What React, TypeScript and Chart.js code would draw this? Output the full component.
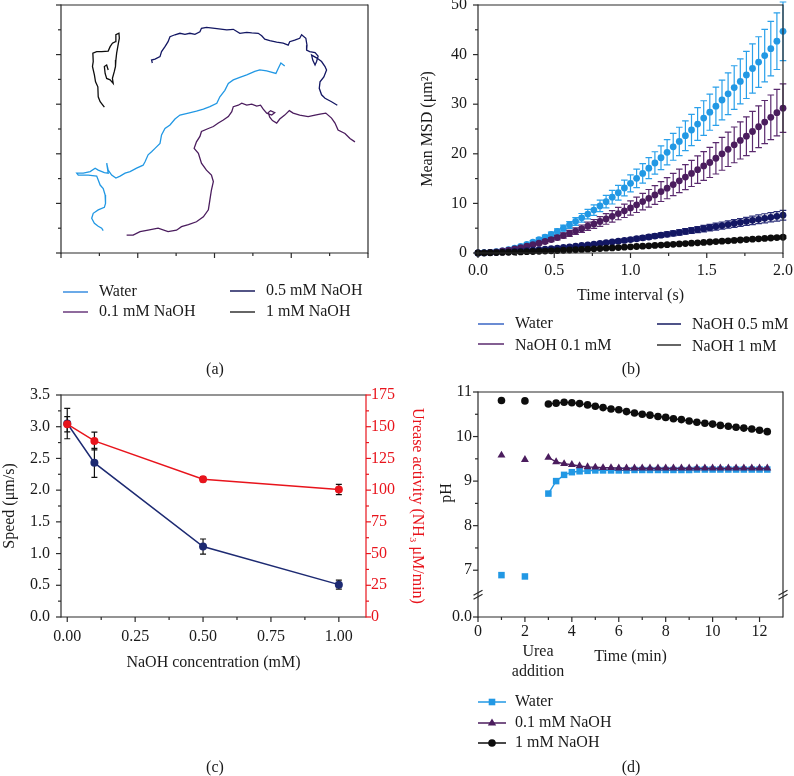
import React, { useEffect, useRef } from 'react';
import { Chart, registerables } from 'chart.js';

Chart.register(...registerables);

const W = 794;
const H = 776;
const FONT_FAMILY = '"Liberation Serif", "Times New Roman", Times, serif';
const FS = 16;
const INK = '#1a1a1a';
const AXIS = '#2a2a2a';

const C_WATER = '#2298e4';
const C_P01 = '#4b1d5e';
const C_P05 = '#131763';
const C_P1 = '#0d0d0d';
const C_SPEED = '#1d2a72';
const C_UREASE = '#e8141c';

// ================= (a) trajectories (x, y in plot units) =================
const trackWater: [number, number][] = [
  [5.83, 3.77], [5.73, 3.83], [5.66, 3.72], [5.6, 3.62], [5.36, 3.67], [5.18, 3.69], [5.05, 3.66], [4.84, 3.59],
  [4.66, 3.54], [4.49, 3.49], [4.36, 3.42], [4.27, 3.28], [4.14, 3.15], [4.06, 3.02], [3.88, 2.95], [3.71, 2.9],
  [3.53, 2.86], [3.32, 2.82], [3.1, 2.78], [2.97, 2.7], [2.84, 2.58], [2.71, 2.51], [2.62, 2.38], [2.58, 2.21],
  [2.45, 2.11], [2.36, 2.04], [2.27, 1.98], [2.19, 1.84], [2.14, 1.77], [1.97, 1.71], [1.8, 1.64], [1.67, 1.61],
  [1.54, 1.55], [1.43, 1.51], [1.32, 1.57], [1.23, 1.67], [1.19, 1.81], [1.23, 1.61], [1.13, 1.62], [0.97, 1.67],
  [0.89, 1.71], [0.76, 1.64], [0.58, 1.61], [0.41, 1.61], [0.45, 1.57], [0.71, 1.57], [0.93, 1.55], [0.97, 1.47],
  [1.02, 1.37], [1.1, 1.3], [1.15, 1.17], [1.16, 1.0], [1.13, 0.92], [0.97, 0.87], [0.84, 0.8], [0.8, 0.7],
  [0.87, 0.6], [0.97, 0.54], [1.06, 0.5], [1.1, 0.45],
];
const trackNaOH01: [number, number][] = [
  [1.71, 0.36], [1.88, 0.36], [2.06, 0.43], [2.27, 0.46], [2.53, 0.5], [2.79, 0.43], [3.01, 0.46], [3.14, 0.53],
  [3.32, 0.57], [3.53, 0.63], [3.71, 0.73], [3.84, 0.87], [3.88, 1.07], [3.92, 1.27], [3.97, 1.44], [3.92, 1.57],
  [3.79, 1.67], [3.66, 1.81], [3.58, 2.01], [3.47, 2.11], [3.53, 2.24], [3.62, 2.35], [3.66, 2.45], [3.84, 2.51],
  [3.97, 2.55], [4.1, 2.62], [4.23, 2.68], [4.36, 2.75], [4.45, 2.85], [4.49, 2.95], [4.62, 2.98], [4.71, 3.02],
  [4.84, 2.98], [4.97, 3.0], [5.1, 2.96], [5.2, 2.98], [5.27, 2.9], [5.36, 2.82], [5.49, 2.78], [5.57, 2.83],
  [5.46, 2.87], [5.4, 2.83], [5.44, 2.74], [5.51, 2.67], [5.62, 2.62], [5.7, 2.7], [5.83, 2.78], [5.95, 2.87],
  [6.05, 2.82], [6.22, 2.78], [6.44, 2.75], [6.62, 2.78], [6.75, 2.8], [6.9, 2.82], [7.05, 2.72], [7.14, 2.62],
  [7.22, 2.48], [7.4, 2.41], [7.53, 2.31], [7.66, 2.24],
];
const trackNaOH05: [number, number][] = [
  [2.38, 3.83], [2.36, 3.89], [2.45, 3.91], [2.58, 3.96], [2.62, 4.06], [2.71, 4.16], [2.79, 4.26], [2.84, 4.36],
  [2.97, 4.4], [3.1, 4.43], [3.23, 4.41], [3.36, 4.43], [3.49, 4.41], [3.62, 4.46], [3.66, 4.53], [3.79, 4.55],
  [4.01, 4.53], [4.32, 4.5], [4.49, 4.51], [4.66, 4.43], [4.84, 4.45], [4.97, 4.44], [5.14, 4.43], [5.23, 4.38],
  [5.31, 4.31], [5.44, 4.28], [5.62, 4.25], [5.79, 4.23], [5.92, 4.19], [5.96, 4.26], [6.09, 4.29], [6.22, 4.33],
  [6.27, 4.4], [6.38, 4.33], [6.41, 4.19], [6.4, 4.09], [6.48, 4.06], [6.62, 4.04], [6.7, 3.97], [6.66, 3.86],
  [6.62, 3.79], [6.56, 3.89], [6.53, 3.99], [6.67, 3.93], [6.79, 3.86], [6.88, 3.76], [6.92, 3.69], [6.85, 3.55],
  [6.75, 3.45], [6.73, 3.32], [6.79, 3.19], [6.88, 3.12], [7.05, 3.05], [7.2, 2.98],
];
const trackNaOH1: [number, number][] = [
  [1.13, 2.94], [1.02, 3.05], [0.97, 3.15], [0.96, 3.35], [0.9, 3.45], [0.87, 3.59], [0.82, 3.76], [0.84, 3.86],
  [0.83, 4.03], [0.93, 4.06], [1.06, 4.06], [1.23, 4.07], [1.28, 4.16], [1.34, 4.23], [1.42, 4.26], [1.43, 4.4],
  [1.51, 4.43], [1.52, 4.33], [1.48, 4.16], [1.45, 4.03], [1.43, 3.89], [1.42, 3.76], [1.39, 3.66], [1.34, 3.52],
  [1.36, 3.42], [1.28, 3.49], [1.19, 3.52], [1.15, 3.62], [1.13, 3.76], [1.19, 3.79], [1.23, 3.69],
];

// ================= (b) mean MSD =================
const msdTime = [
  0, 0.04, 0.08, 0.12, 0.16, 0.2, 0.24, 0.28, 0.32, 0.36,
  0.4, 0.44, 0.48, 0.52, 0.56, 0.6, 0.64, 0.68, 0.72, 0.76,
  0.8, 0.84, 0.88, 0.92, 0.96, 1.0, 1.04, 1.08, 1.12, 1.16,
  1.2, 1.24, 1.28, 1.32, 1.36, 1.4, 1.44, 1.48, 1.52, 1.56,
  1.6, 1.64, 1.68, 1.72, 1.76, 1.8, 1.84, 1.88, 1.92, 1.96,
  2.0,
];
const msdWater = [
  0, 0.05, 0.12, 0.25, 0.42, 0.68, 1.0, 1.35, 1.75, 2.2,
  2.7, 3.2, 3.75, 4.35, 5.0, 5.65, 6.35, 7.1, 7.85, 8.65,
  9.5, 10.35, 11.25, 12.15, 13.1, 14.05, 15.05, 16.05, 17.1, 18.15,
  19.2, 20.3, 21.4, 22.5, 23.65, 24.8, 26.0, 27.2, 28.4, 29.6,
  30.85, 32.1, 33.35, 34.6, 35.9, 37.2, 38.5, 39.8, 41.2, 42.7,
  44.7,
];
const msdWaterErr = [
  0, 0.01, 0.02, 0.04, 0.06, 0.09, 0.13, 0.17, 0.22, 0.27,
  0.33, 0.39, 0.46, 0.53, 0.6, 0.68, 0.77, 0.86, 0.95, 1.05,
  1.15, 1.26, 1.37, 1.48, 1.6, 1.72, 1.85, 1.98, 2.12, 2.26,
  2.4, 2.55, 2.7, 2.85, 3.0, 3.15, 3.3, 3.5, 3.65, 3.85,
  4.0, 4.2, 4.4, 4.55, 4.75, 4.95, 5.1, 5.3, 5.5, 5.7,
  5.9,
];
const msdNaOH01 = [
  0, 0.04, 0.12, 0.24, 0.4, 0.58, 0.82, 1.08, 1.36, 1.66,
  1.98, 2.32, 2.7, 3.1, 3.52, 3.96, 4.42, 4.9, 5.4, 5.85,
  6.35, 6.87, 7.4, 7.95, 8.5, 9.08, 9.72, 10.37, 11.03, 11.7,
  12.38, 13.06, 13.8, 14.55, 15.3, 16.05, 16.8, 17.55, 18.25, 19.1,
  20.0, 20.9, 21.8, 22.7, 23.55, 24.5, 25.45, 26.4, 27.35, 28.3,
  29.2,
];
const msdNaOH01Err = [
  0, 0.01, 0.02, 0.04, 0.06, 0.09, 0.12, 0.16, 0.2, 0.25,
  0.3, 0.35, 0.41, 0.47, 0.53, 0.6, 0.67, 0.75, 0.83, 0.9,
  0.98, 1.07, 1.16, 1.25, 1.34, 1.44, 1.55, 1.66, 1.77, 1.88,
  2.0, 2.12, 2.25, 2.38, 2.51, 2.64, 2.77, 2.9, 3.03, 3.17,
  3.32, 3.46, 3.6, 3.75, 3.9, 4.05, 4.2, 4.35, 4.5, 4.7,
  4.9,
];
const msdNaOH05 = [
  0, 0.03, 0.07, 0.12, 0.18, 0.24, 0.31, 0.39, 0.47, 0.56,
  0.66, 0.76, 0.87, 0.99, 1.11, 1.24, 1.37, 1.51, 1.65, 1.79,
  1.93, 2.08, 2.23, 2.38, 2.54, 2.7, 2.87, 3.05, 3.23, 3.41,
  3.59, 3.77, 3.96, 4.15, 4.34, 4.53, 4.72, 4.91, 5.11, 5.32,
  5.53, 5.74, 5.95, 6.16, 6.37, 6.58, 6.79, 7.0, 7.2, 7.4,
  7.62,
];
const msdNaOH05Err = [
  0, 0.01, 0.01, 0.02, 0.02, 0.03, 0.04, 0.05, 0.06, 0.07,
  0.09, 0.1, 0.11, 0.13, 0.14, 0.16, 0.18, 0.2, 0.21, 0.23,
  0.25, 0.27, 0.29, 0.31, 0.33, 0.35, 0.37, 0.4, 0.42, 0.44,
  0.47, 0.49, 0.51, 0.54, 0.56, 0.59, 0.61, 0.64, 0.66, 0.69,
  0.72, 0.75, 0.77, 0.8, 0.83, 0.86, 0.88, 0.91, 0.94, 0.96,
  0.99,
];
const msdNaOH1 = [
  0, 0.02, 0.05, 0.08, 0.11, 0.15, 0.18, 0.22, 0.26, 0.3,
  0.35, 0.39, 0.44, 0.49, 0.55, 0.6, 0.66, 0.72, 0.78, 0.84,
  0.9, 0.97, 1.03, 1.1, 1.17, 1.24, 1.31, 1.38, 1.45, 1.52,
  1.6, 1.67, 1.75, 1.82, 1.9, 1.98, 2.06, 2.14, 2.22, 2.3,
  2.38, 2.46, 2.54, 2.62, 2.7, 2.78, 2.86, 2.94, 3.02, 3.1,
  3.18,
];
const msdNaOH1Err = [
  0, 0, 0, 0.01, 0.01, 0.01, 0.01, 0.02, 0.02, 0.02,
  0.03, 0.03, 0.03, 0.04, 0.04, 0.05, 0.05, 0.06, 0.06, 0.07,
  0.07, 0.08, 0.08, 0.09, 0.09, 0.1, 0.1, 0.11, 0.12, 0.12,
  0.13, 0.13, 0.14, 0.15, 0.15, 0.16, 0.16, 0.17, 0.18, 0.18,
  0.19, 0.2, 0.2, 0.21, 0.22, 0.22, 0.23, 0.24, 0.24, 0.25,
  0.26,
];

// ================= (c) speed & urease =================
const naohConc = [0, 0.1, 0.5, 1.0];
const speed = [3.05, 2.43, 1.11, 0.51];
const speedErr = [0.24, 0.23, 0.12, 0.07];
const urease = [152, 138.8, 108.6, 100.5];
const ureaseErr = [6, 7, 2, 4];

// ================= (d) pH =================
const phTime = [
  1, 2, 3, 3.33, 3.67, 4, 4.33, 4.67, 5, 5.33, 5.67, 6, 6.33, 6.67, 7, 7.33,
  7.67, 8, 8.33, 8.67, 9, 9.33, 9.67, 10, 10.33, 10.67, 11, 11.33, 11.67, 12, 12.33,
];
const phWater = [
  6.89, 6.86, 8.72, 9.0, 9.14, 9.2, 9.22, 9.23, 9.24, 9.24, 9.24, 9.24, 9.24, 9.25, 9.25, 9.25,
  9.25, 9.25, 9.25, 9.25, 9.25, 9.26, 9.26, 9.26, 9.26, 9.26, 9.26, 9.26, 9.26, 9.26, 9.26,
];
const phNaOH01 = [
  9.58, 9.48, 9.53, 9.43, 9.39, 9.37, 9.34, 9.32, 9.31, 9.3, 9.3, 9.29, 9.29, 9.29, 9.29, 9.29,
  9.29, 9.29, 9.29, 9.29, 9.29, 9.29, 9.29, 9.29, 9.29, 9.29, 9.29, 9.29, 9.29, 9.29, 9.29,
];
const phNaOH1 = [
  10.81, 10.8, 10.73, 10.75, 10.77, 10.76, 10.74, 10.71, 10.68, 10.65, 10.62, 10.6, 10.56, 10.53, 10.5, 10.48,
  10.45, 10.43, 10.4, 10.38, 10.35, 10.32, 10.3, 10.28, 10.25, 10.23, 10.21, 10.19, 10.17, 10.14, 10.11,
];

// ================= tick sets =================
const aXMajor = [0, 2, 4, 6, 8];
const aXMinor = [1, 3, 5, 7];
const aYMajor = [0, 1, 2, 3, 4, 5];
const aYMinor = [0.5, 1.5, 2.5, 3.5, 4.5];
const bXTicks = [0, 0.5, 1, 1.5, 2];
const bXMinor = [0.25, 0.75, 1.25, 1.75];
const bYTicks = [0, 10, 20, 30, 40, 50];
const bYMinor = [5, 15, 25, 35, 45];
const cXTicks = [0, 0.25, 0.5, 0.75, 1];
const cXMinor = [0.125, 0.375, 0.625, 0.875];
const cYTicks = [0, 0.5, 1, 1.5, 2, 2.5, 3, 3.5];
const cYMinor = [0.25, 0.75, 1.25, 1.75, 2.25, 2.75, 3.25];
const cY2Ticks = [0, 25, 50, 75, 100, 125, 150, 175];
const cY2Minor = [12.5, 37.5, 62.5, 87.5, 112.5, 137.5, 162.5];
const dXTicks = [0, 2, 4, 6, 8, 10, 12];
const dXMinor = [1, 3, 5, 7, 9, 11];
const dYBottom = 5.95;
const dYTicks = [dYBottom, 7, 8, 9, 10, 11];
const dYMinor = [7.5, 8.5, 9.5, 10.5];
const dYBreak = 6.45;

// ================= helpers =================
const font = { family: FONT_FAMILY, size: FS };

function fixSize(size: number) {
  return (s: any) => {
    if (s.isHorizontal()) s.height = size;
    else s.width = size;
    s.paddingLeft = 0;
    s.paddingRight = 0;
    s.paddingTop = 0;
    s.paddingBottom = 0;
  };
}

function setTicks(vals: number[]) {
  return (s: any) => {
    s.ticks = vals.map((v) => ({ value: v }));
  };
}

function axisBase(min: number, max: number, size: number, ticks: number[] | null, pad: number, fmt: (v: number) => string, color = INK) {
  return {
    type: 'linear' as const,
    min,
    max,
    grid: { display: false, drawTicks: false },
    border: { display: false },
    ticks: {
      display: ticks !== null,
      autoSkip: false,
      maxRotation: 0,
      padding: pad,
      color,
      font,
      callback: (v: any) => fmt(Number(v)),
    },
    afterBuildTicks: ticks ? setTicks(ticks) : undefined,
    afterFit: fixSize(size),
  };
}

type Side = 'left' | 'right' | 'top' | 'bottom';
interface AxisDeco {
  scale: string;
  side: Side;
  major: number[];
  minor: number[];
  color?: string;
}

function framePlugin(id: string, axes: AxisDeco[], breakAt?: { scale: string; value: number }) {
  return {
    id,
    afterDraw(chart: any) {
      const { ctx, chartArea: a } = chart;
      ctx.save();
      ctx.lineWidth = 1.2;
      (['top', 'bottom', 'left', 'right'] as Side[]).forEach((s) => {
        const d = axes.find((x) => x.side === s);
        ctx.strokeStyle = d?.color ?? AXIS;
        ctx.beginPath();
        if (s === 'left') { ctx.moveTo(a.left, a.top - 0.6); ctx.lineTo(a.left, a.bottom + 0.6); }
        if (s === 'right') { ctx.moveTo(a.right, a.top - 0.6); ctx.lineTo(a.right, a.bottom + 0.6); }
        if (s === 'top') { ctx.moveTo(a.left, a.top); ctx.lineTo(a.right, a.top); }
        if (s === 'bottom') { ctx.moveTo(a.left, a.bottom); ctx.lineTo(a.right, a.bottom); }
        ctx.stroke();
      });
      for (const d of axes) {
        const sc = chart.scales[d.scale];
        ctx.strokeStyle = d.color ?? AXIS;
        const mark = (v: number, len: number) => {
          const p = sc.getPixelForValue(v);
          ctx.beginPath();
          if (d.side === 'left') { ctx.moveTo(a.left - len, p); ctx.lineTo(a.left, p); }
          else if (d.side === 'right') { ctx.moveTo(a.right, p); ctx.lineTo(a.right + len, p); }
          else if (d.side === 'bottom') { ctx.moveTo(p, a.bottom); ctx.lineTo(p, a.bottom + len); }
          else { ctx.moveTo(p, a.top); ctx.lineTo(p, a.top - len); }
          ctx.stroke();
        };
        d.major.forEach((v) => mark(v, 5));
        d.minor.forEach((v) => mark(v, 3));
      }
      if (breakAt) {
        const p = chart.scales[breakAt.scale].getPixelForValue(breakAt.value);
        ctx.strokeStyle = AXIS;
        for (const x of [a.left, a.right]) {
          for (const off of [-2, 2]) {
            ctx.beginPath();
            ctx.moveTo(x - 4.5, p + off + 2.5);
            ctx.lineTo(x + 4.5, p + off - 2.5);
            ctx.stroke();
          }
        }
      }
      ctx.restore();
    },
  };
}

const errorBars = {
  id: 'errorBars',
  beforeDatasetDraw(chart: any, args: any) {
    const ds: any = chart.data.datasets[args.index];
    if (!ds.errors) return;
    const meta = args.meta;
    const ys = meta.yScale;
    const ctx = chart.ctx;
    const cap = ds.errorCap ?? 3.2;
    ctx.save();
    ctx.strokeStyle = ds.errorColor || ds.borderColor;
    ctx.lineWidth = 1.2;
    meta.data.forEach((pt: any, i: number) => {
      const e = ds.errors[i];
      if (!e) return;
      const v = ds.data[i].y;
      const x = pt.x;
      const y1 = ys.getPixelForValue(v + e);
      const y2 = ys.getPixelForValue(v - e);
      ctx.beginPath();
      ctx.moveTo(x, y1); ctx.lineTo(x, y2);
      ctx.moveTo(x - cap, y1); ctx.lineTo(x + cap, y1);
      ctx.moveTo(x - cap, y2); ctx.lineTo(x + cap, y2);
      ctx.stroke();
    });
    ctx.restore();
  },
};

interface LegendItem {
  text: string;
  color: string;
  x1: number;
  x2: number;
  y: number;
  tx: number;
  ty?: number;
  marker?: 'circle' | 'rect' | 'triangle';
}
interface TextItem {
  text: string;
  x: number;
  y: number;
  color?: string;
  align?: CanvasTextAlign;
  rotate?: number;
}

function drawMarker(ctx: CanvasRenderingContext2D, kind: string, x: number, y: number, color: string) {
  ctx.fillStyle = color;
  ctx.beginPath();
  if (kind === 'circle') ctx.arc(x, y, 3.8, 0, Math.PI * 2);
  else if (kind === 'rect') ctx.rect(x - 3.3, y - 3.3, 6.6, 6.6);
  else {
    ctx.moveTo(x, y - 4.6);
    ctx.lineTo(x + 4.2, y + 2.6);
    ctx.lineTo(x - 4.2, y + 2.6);
    ctx.closePath();
  }
  ctx.fill();
}

function annotPlugin(id: string, legend: LegendItem[], texts: TextItem[]) {
  return {
    id,
    afterDraw(chart: any) {
      const ctx: CanvasRenderingContext2D = chart.ctx;
      ctx.save();
      ctx.font = `${FS}px ${FONT_FAMILY}`;
      ctx.textBaseline = 'middle';
      for (const it of legend) {
        ctx.strokeStyle = it.color;
        ctx.lineWidth = 1.5;
        ctx.beginPath();
        ctx.moveTo(it.x1, it.y);
        ctx.lineTo(it.x2, it.y);
        ctx.stroke();
        if (it.marker) drawMarker(ctx, it.marker, (it.x1 + it.x2) / 2, it.y, it.color);
        ctx.fillStyle = INK;
        ctx.textAlign = 'left';
        ctx.fillText(it.text, it.tx, it.ty ?? it.y);
      }
      for (const t of texts) {
        ctx.save();
        ctx.fillStyle = t.color ?? INK;
        ctx.textAlign = t.align ?? 'center';
        ctx.translate(t.x, t.y);
        if (t.rotate) ctx.rotate(t.rotate);
        ctx.fillText(t.text, 0, 0);
        ctx.restore();
      }
      ctx.restore();
    },
  };
}

const title = (text: string, color = INK) => ({ display: true, text, color, font, padding: 0 });
const basePlugins = { legend: { display: false }, tooltip: { enabled: false } };
const f1 = (v: number) => v.toFixed(1);
const f2 = (v: number) => v.toFixed(2);
const f0 = (v: number) => String(Math.round(v));

// ================= chart configs =================
function configA(): any {
  const track = (pts: [number, number][], color: string) => ({
    data: pts.map(([x, y]) => ({ x, y })),
    showLine: true,
    borderColor: color,
    borderWidth: 1.3,
    pointRadius: 0,
    tension: 0,
  });
  return {
    type: 'scatter',
    data: {
      datasets: [
        track(trackWater, C_WATER),
        track(trackNaOH01, C_P01),
        track(trackNaOH05, C_P05),
        track(trackNaOH1, C_P1),
      ],
    },
    options: {
      responsive: false,
      animation: false,
      events: [],
      layout: { padding: { left: 41, top: 5, right: 426, bottom: 503 } },
      scales: {
        x: axisBase(0, 8, 20, null, 0, f0),
        y: axisBase(0, 5, 20, null, 0, f0),
      },
      plugins: basePlugins,
    },
    plugins: [
      framePlugin('frameA', [
        { scale: 'x', side: 'bottom', major: aXMajor, minor: aXMinor },
        { scale: 'y', side: 'left', major: aYMajor, minor: aYMinor },
      ]),
      annotPlugin(
        'annotA',
        [
          { text: 'Water', color: '#3a8ee0', x1: 63, x2: 88, y: 292, tx: 99 },
          { text: '0.1 mM NaOH', color: '#6a3a7c', x1: 63, x2: 88, y: 312, tx: 99 },
          { text: '0.5 mM NaOH', color: '#1a1d5e', x1: 230, x2: 255, y: 291, tx: 266 },
          { text: '1 mM NaOH', color: '#333333', x1: 230, x2: 255, y: 312, tx: 266 },
        ],
        [{ text: '(a)', x: 215, y: 370 }],
      ),
    ],
  };
}

function configB(): any {
  const series = (vals: number[], errs: number[], color: string, errColor: string, order: number) => ({
    data: msdTime.map((t, i) => ({ x: t, y: vals[i] })),
    errors: errs,
    errorColor: errColor,
    errorCap: 3.3,
    showLine: false,
    pointRadius: 3.4,
    pointBorderWidth: 0,
    pointBackgroundColor: color,
    borderColor: color,
    backgroundColor: color,
    clip: false,
    order,
  });
  return {
    type: 'scatter',
    data: {
      datasets: [
        series(msdWater, msdWaterErr, C_WATER, '#2aa0ea', 4),
        series(msdNaOH01, msdNaOH01Err, C_P01, '#5a2a6e', 3),
        series(msdNaOH05, msdNaOH05Err, C_P05, '#2a2e78', 2),
        series(msdNaOH1, msdNaOH1Err, C_P1, '#222222', 1),
      ],
    },
    options: {
      responsive: false,
      animation: false,
      events: [],
      layout: { padding: { left: 418, top: 5, right: 11, bottom: 471 } },
      scales: {
        x: { ...axisBase(0, 2, 52, bXTicks, 8, f1), title: title('Time interval (s)') },
        y: { ...axisBase(0, 50, 60, bYTicks, 11, f0), title: title('Mean MSD (μm²)') },
      },
      plugins: basePlugins,
    },
    plugins: [
      errorBars,
      framePlugin('frameB', [
        { scale: 'x', side: 'bottom', major: bXTicks, minor: bXMinor },
        { scale: 'y', side: 'left', major: bYTicks, minor: bYMinor },
      ]),
      annotPlugin(
        'annotB',
        [
          { text: 'Water', color: '#3a66c4', x1: 478, x2: 504, y: 324, tx: 515 },
          { text: 'NaOH 0.1 mM', color: '#5a2a6e', x1: 478, x2: 504, y: 344, tx: 515, ty: 346 },
          { text: 'NaOH 0.5 mM', color: '#141a60', x1: 657, x2: 681, y: 324, tx: 692, ty: 325 },
          { text: 'NaOH 1 mM', color: '#333333', x1: 657, x2: 681, y: 345, tx: 692, ty: 347 },
        ],
        [{ text: '(b)', x: 631, y: 370 }],
      ),
    ],
  };
}

function configC(): any {
  return {
    type: 'scatter',
    data: {
      datasets: [
        {
          data: naohConc.map((x, i) => ({ x, y: urease[i] })),
          yAxisID: 'y2',
          errors: ureaseErr,
          errorColor: '#111111',
          errorCap: 3,
          showLine: true,
          borderColor: C_UREASE,
          borderWidth: 1.5,
          pointRadius: 4,
          pointBorderWidth: 0,
          pointBackgroundColor: C_UREASE,
          clip: false,
          order: 0,
        },
        {
          data: naohConc.map((x, i) => ({ x, y: speed[i] })),
          yAxisID: 'y',
          errors: speedErr,
          errorColor: '#111111',
          errorCap: 3,
          showLine: true,
          borderColor: C_SPEED,
          borderWidth: 1.5,
          pointRadius: 4,
          pointBorderWidth: 0,
          pointBackgroundColor: C_SPEED,
          clip: false,
          order: 1,
        },
      ],
    },
    options: {
      responsive: false,
      animation: false,
      events: [],
      layout: { padding: { left: 0, top: 395, right: 367, bottom: 104 } },
      scales: {
        x: { ...axisBase(-0.023, 1.1, 55, cXTicks, 10, f2), title: title('NaOH concentration (mM)') },
        y: { ...axisBase(0, 3.5, 61, cYTicks, 11, f1), position: 'left', title: title('Speed (μm/s)') },
        y2: {
          ...axisBase(0, 175, 61, cY2Ticks, 5, f0, C_UREASE),
          position: 'right',
          title: title('Urease activity (NH₃ μM/min)', C_UREASE),
        },
      },
      plugins: basePlugins,
    },
    plugins: [
      errorBars,
      framePlugin('frameC', [
        { scale: 'x', side: 'bottom', major: cXTicks, minor: cXMinor },
        { scale: 'y', side: 'left', major: cYTicks, minor: cYMinor },
        { scale: 'y2', side: 'right', major: cY2Ticks, minor: cY2Minor, color: C_UREASE },
      ]),
      annotPlugin('annotC', [], [{ text: '(c)', x: 215, y: 768 }]),
    ],
  };
}

function configD(): any {
  const series = (vals: number[], color: string, style: string, radius: number, order: number) => ({
    data: phTime.map((t, i) => ({ x: t, y: vals[i] })),
    showLine: true,
    borderColor: color,
    borderWidth: 1.4,
    segment: { borderColor: (c: any) => (c.p0DataIndex < 2 ? 'rgba(0,0,0,0)' : color) },
    pointStyle: style,
    pointRadius: radius,
    pointBorderWidth: 0,
    pointBackgroundColor: color,
    clip: false,
    order,
  });
  return {
    type: 'scatter',
    data: {
      datasets: [
        series(phWater, C_WATER, 'rect', 4.6, 2),
        series(phNaOH01, C_P01, 'triangle', 4.6, 1),
        series(phNaOH1, C_P1, 'circle', 3.8, 0),
      ],
    },
    options: {
      responsive: false,
      animation: false,
      events: [],
      layout: { padding: { left: 437, top: 392, right: 11, bottom: 110 } },
      scales: {
        x: { ...axisBase(0, 13, 49, dXTicks, 5, f0), title: title('Time (min)') },
        y: axisBase(dYBottom, 11, 41, dYTicks, 6, (v) => (v < 6 ? '0.0' : f0(v))),
      },
      plugins: basePlugins,
    },
    plugins: [
      framePlugin(
        'frameD',
        [
          { scale: 'x', side: 'bottom', major: dXTicks, minor: dXMinor },
          { scale: 'y', side: 'left', major: dYTicks, minor: dYMinor },
        ],
        { scale: 'y', value: dYBreak },
      ),
      annotPlugin(
        'annotD',
        [
          { text: 'Water', color: C_WATER, x1: 478, x2: 506, y: 702, tx: 515, marker: 'rect' },
          { text: '0.1 mM NaOH', color: C_P01, x1: 478, x2: 506, y: 723, tx: 515, marker: 'triangle' },
          { text: '1 mM NaOH', color: C_P1, x1: 478, x2: 506, y: 743, tx: 515, marker: 'circle' },
        ],
        [
          { text: 'pH', x: 447, y: 493, rotate: -Math.PI / 2 },
          { text: 'Urea', x: 538, y: 652 },
          { text: 'addition', x: 538, y: 672 },
          { text: '(d)', x: 631, y: 768 },
        ],
      ),
    ],
  };
}

function ChartLayer({ make }: { make: () => any }) {
  const ref = useRef<HTMLCanvasElement>(null);
  useEffect(() => {
    const chart = new Chart(ref.current as HTMLCanvasElement, make());
    return () => chart.destroy();
  }, [make]);
  return (
    <canvas
      ref={ref}
      width={W}
      height={H}
      style={{ position: 'absolute', left: 0, top: 0, width: W, height: H }}
    />
  );
}

export default function App() {
  return (
    <div style={{ position: 'absolute', left: 0, top: 0, width: W, height: H, background: '#ffffff', overflow: 'hidden' }}>
      <ChartLayer make={configA} />
      <ChartLayer make={configB} />
      <ChartLayer make={configC} />
      <ChartLayer make={configD} />
    </div>
  );
}
